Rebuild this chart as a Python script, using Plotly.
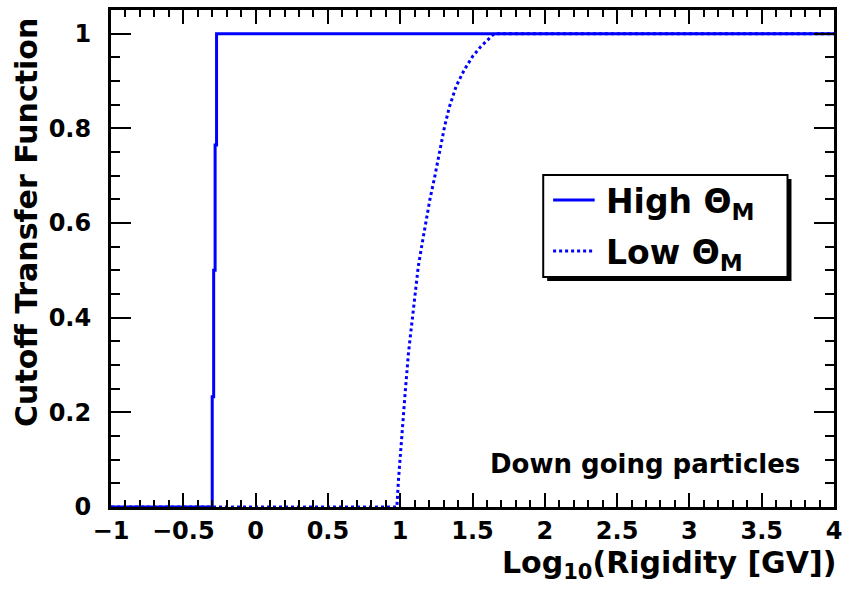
import plotly.graph_objects as go

# Cutoff transfer function vs log10 rigidity, two geomagnetic latitude bins
high_x = [-1.0, -0.30, -0.29, -0.28, -0.27, 4.0]
high_y = [0.0, 0.233, 0.50, 0.765, 1.0, 1.0]

low_x = [-1.0, 0.977, 0.988, 1.011, 1.034, 1.057, 1.079, 1.102, 1.125, 1.148,
         1.177, 1.205, 1.239, 1.273, 1.307, 1.341, 1.387, 1.444, 1.501, 1.558,
         1.627, 1.65, 4.0]
low_y = [0.0, 0.0, 0.057, 0.156, 0.240, 0.325, 0.381, 0.452, 0.508, 0.550,
         0.600, 0.649, 0.698, 0.748, 0.804, 0.846, 0.889, 0.924, 0.952, 0.973,
         0.994, 1.0, 1.0]

x_ticks = [-1, -0.5, 0, 0.5, 1, 1.5, 2, 2.5, 3, 3.5, 4]
x_tick_text = ["\u22121", "\u22120.5", "0", "0.5", "1", "1.5", "2", "2.5", "3", "3.5", "4"]
y_ticks = [0, 0.2, 0.4, 0.6, 0.8, 1.0]
y_tick_text = ["0", "0.2", "0.4", "0.6", "0.8", "1"]

FONT = "DejaVu Sans"
W, H = 848, 591
ML, MR, MT, MB = 111, 6, 10, 84
PW, PH = W - ML - MR, H - MT - MB


def px(x):
    return (x - ML) / PW


def py(y):
    return (H - MB - y) / PH


BLUE = "#0000ff"

fig = go.Figure()
fig.add_trace(go.Scatter(x=low_x, y=low_y, mode="lines",
                         line=dict(color=BLUE, width=3, dash="dot"),
                         showlegend=False))
fig.add_trace(go.Scatter(x=high_x, y=high_y, mode="lines",
                         line=dict(color=BLUE, width=3, shape="hv"),
                         showlegend=False))

axis_common = dict(
    showgrid=False, zeroline=False, showline=True, linecolor="black",
    linewidth=3, mirror="allticks", ticks="inside", tickcolor="black",
    tickwidth=2, tickfont=dict(family=FONT, size=24, color="black", weight="bold"),
)

fig.update_xaxes(range=[-1, 4], tickvals=x_ticks, ticktext=x_tick_text,
                 ticklen=14, ticklabelstandoff=0,
                 minor=dict(dtick=0.1, ticks="inside", ticklen=7, tickwidth=2,
                            tickcolor="black"),
                 **axis_common)
fig.update_yaxes(range=[0, 1.05], tickvals=y_ticks, ticktext=y_tick_text,
                 ticklen=20, ticklabelstandoff=12,
                 minor=dict(dtick=0.05, ticks="inside", ticklen=9, tickwidth=2,
                            tickcolor="black"),
                 **axis_common)

# legend box with drop shadow
shapes = [
    dict(type="rect", xref="paper", yref="paper",
         x0=px(552), x1=px(799), y0=py(281), y1=py(179),
         fillcolor="black", line=dict(width=0)),
    dict(type="rect", xref="paper", yref="paper",
         x0=px(548), x1=px(795), y0=py(277), y1=py(175),
         fillcolor="white", line=dict(color="black", width=2)),
    dict(type="line", xref="paper", yref="paper",
         x0=px(558), x1=px(600), y0=py(200), y1=py(200),
         line=dict(color=BLUE, width=3)),
    dict(type="line", xref="paper", yref="paper",
         x0=px(558), x1=px(598), y0=py(251), y1=py(251),
         line=dict(color=BLUE, width=3, dash="dot")),
]

annotations = [
    dict(text="High \u0398<sub>M</sub>", xref="paper", yref="paper",
         x=px(609), y=py(203), xanchor="left", yanchor="middle",
         showarrow=False, font=dict(family=FONT, size=33, color="black", weight="bold")),
    dict(text="Low \u0398<sub>M</sub>", xref="paper", yref="paper",
         x=px(609), y=py(254), xanchor="left", yanchor="middle",
         showarrow=False, font=dict(family=FONT, size=33, color="black", weight="bold")),
    dict(text="Down going particles", xref="paper", yref="paper",
         x=px(810), y=py(464), xanchor="right", yanchor="middle",
         showarrow=False, font=dict(family=FONT, size=26, color="black", weight="bold")),
    dict(text="Log<sub>10</sub>(Rigidity [GV])", xref="paper", yref="paper",
         x=px(846), y=py(543), xanchor="right", yanchor="top",
         showarrow=False, font=dict(family=FONT, size=30, color="black", weight="bold")),
    dict(text="Cutoff Transfer Function", xref="paper", yref="paper",
         x=px(25), y=py(222), xanchor="center", yanchor="middle", textangle=-90,
         showarrow=False, font=dict(family=FONT, size=30, color="black", weight="bold")),
]

fig.update_layout(
    width=W, height=H,
    margin=dict(l=ML, r=MR, t=MT, b=MB),
    paper_bgcolor="white", plot_bgcolor="white",
    shapes=shapes, annotations=annotations,
    showlegend=False,
)

fig.write_html("out.html")
